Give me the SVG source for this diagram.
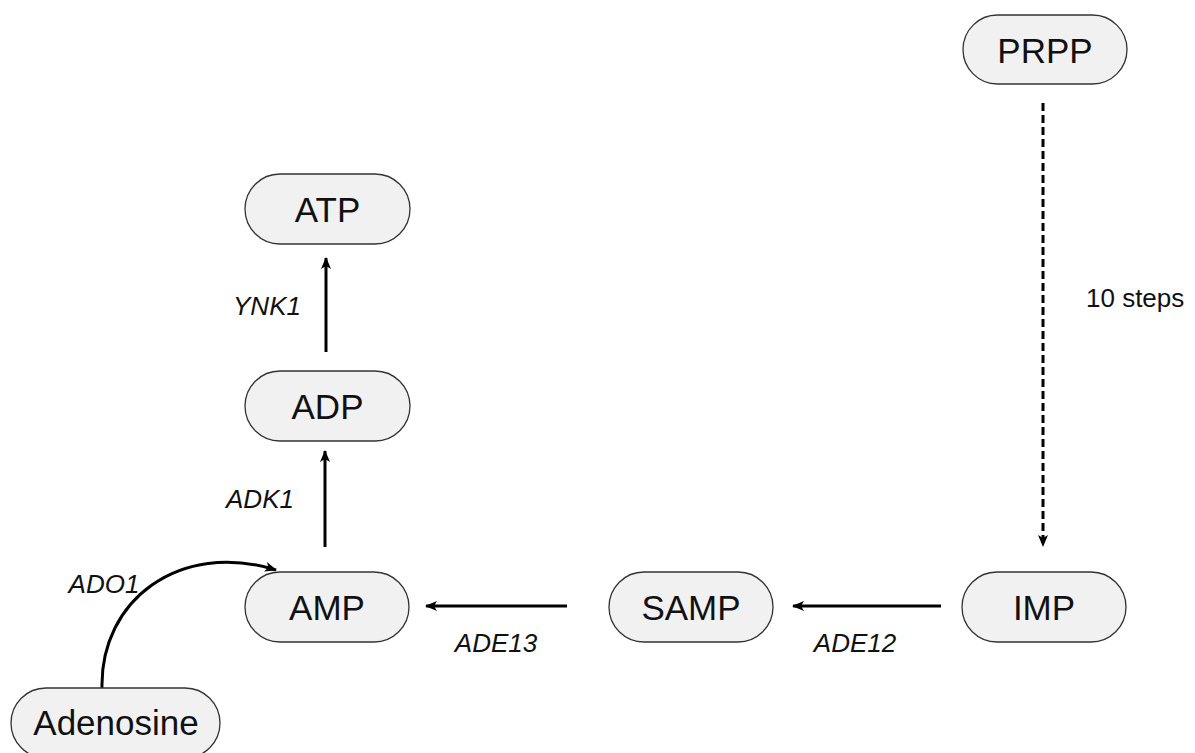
<svg xmlns="http://www.w3.org/2000/svg" width="1195" height="753" viewBox="0 0 1195 753">
<style>
.node rect{fill:#f1f1f1;stroke:#333;stroke-width:1.3}
.node text{font-family:"Liberation Sans",Arial,sans-serif;font-size:35px;fill:#111;text-anchor:middle;dominant-baseline:central}
.lbl{font-family:"Liberation Sans",Arial,sans-serif;font-size:26px;font-style:italic;fill:#111;text-anchor:middle}
.plain{font-family:"Liberation Sans",Arial,sans-serif;font-size:26px;fill:#111}
.edge{fill:none;stroke:#000;stroke-width:3}
</style>
<defs>
<marker id="ah" markerWidth="14" markerHeight="12" refX="11" refY="6" orient="auto" markerUnits="userSpaceOnUse">
<path d="M0,1 L12,6 L0,11 L3,6 Z" fill="#000"/>
</marker>
</defs>
<rect width="1195" height="753" fill="#fff"/>
<g id="connectors">
<line class="edge" x1="326" y1="352" x2="326" y2="258" marker-end="url(#ah)"/>
<line class="edge" x1="325" y1="547" x2="325" y2="451" marker-end="url(#ah)"/>
<line class="edge" x1="567" y1="606" x2="426" y2="606" marker-end="url(#ah)"/>
<line class="edge" x1="941" y1="606" x2="793" y2="606" marker-end="url(#ah)"/>
<line class="edge" x1="1043" y1="103" x2="1043" y2="546" stroke-dasharray="8,4" marker-end="url(#ah)"/>
<path class="edge" d="M102,688 C100,600 180,540 276,570" marker-end="url(#ah)"/>
<text class="lbl" x="267" y="315">YNK1</text>
<text class="lbl" x="260" y="508">ADK1</text>
<text class="lbl" x="104" y="593">ADO1</text>
<text class="lbl" x="496" y="652">ADE13</text>
<text class="lbl" x="855" y="652">ADE12</text>
<text class="plain" x="1086" y="307">10 steps</text>
</g>
<g id="PRPP" class="node"><rect x="963" y="15" width="164" height="69" rx="34.5"/><text x="1045" y="50">PRPP</text></g>
<g id="ATP" class="node"><rect x="245" y="174" width="165" height="70" rx="35"/><text x="327.5" y="209">ATP</text></g>
<g id="ADP" class="node"><rect x="245" y="371" width="165" height="70" rx="35"/><text x="327.5" y="406">ADP</text></g>
<g id="AMP" class="node"><rect x="245" y="572" width="164" height="70" rx="35"/><text x="327" y="607">AMP</text></g>
<g id="SAMP" class="node"><rect x="609" y="572" width="164" height="70" rx="35"/><text x="691" y="607">SAMP</text></g>
<g id="IMP" class="node"><rect x="962" y="572" width="164" height="70" rx="35"/><text x="1044" y="607">IMP</text></g>
<g id="Adenosine" class="node"><rect x="11" y="688" width="209" height="70" rx="35"/><text x="116" y="722">Adenosine</text></g>
</svg>
